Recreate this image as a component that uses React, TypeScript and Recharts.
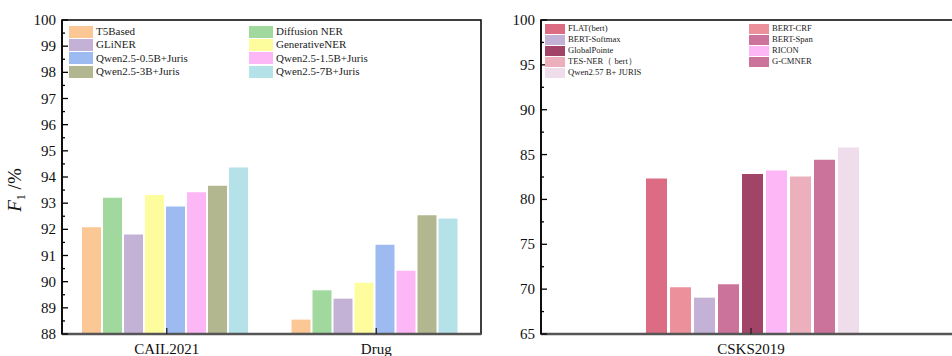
import React from 'react';
import { BarChart, Bar, XAxis, YAxis, Legend, ReferenceArea } from 'recharts';

const FONT = "'Liberation Serif', 'Times New Roman', serif";

// ---------- Left chart data ----------
const leftCategories = ['CAIL2021', 'Drug'];
const t5Based = [92.08, 88.55];
const diffusionNER = [93.21, 89.67];
const gliNER = [91.8, 89.35];
const generativeNER = [93.31, 89.96];
const qwen05 = [92.87, 91.41];
const qwen15 = [93.42, 90.42];
const qwen3 = [93.67, 92.54];
const qwen7 = [94.36, 92.41];
const leftNames = [
  'T5Based', 'Diffusion NER', 'GLiNER', 'GenerativeNER',
  'Qwen2.5-0.5B+Juris', 'Qwen2.5-1.5B+Juris', 'Qwen2.5-3B+Juris', 'Qwen2.5-7B+Juris',
];
const leftColors = ['#FAC795', '#A0D89E', '#C3B1D6', '#FDFD9E', '#9DBBF0', '#FDB7F6', '#B2B78F', '#B5E2E9'];
const leftYTicks = [88, 88.5, 89, 89.5, 90, 90.5, 91, 91.5, 92, 92.5, 93, 93.5, 94, 94.5, 95, 95.5, 96, 96.5, 97, 97.5, 98, 98.5, 99, 99.5, 100];

// ---------- Right chart data ----------
const rightCategories = ['CSKS2019'];
const flatBert = [82.32];
const bertCRF = [70.2];
const bertSoftmax = [69.05];
const bertSpan = [70.54];
const globalPointe = [82.84];
const ricon = [83.22];
const tesNER = [82.55];
const gCMNER = [84.41];
const qwenJuris = [85.78];
const rightNames = [
  'FLAT(bert)', 'BERT-CRF', 'BERT-Softmax', 'BERT-Span', 'GlobalPointe',
  'RICON', 'TES-NER（ bert）', 'G-CMNER', 'Qwen2.57 B+ JURIS',
];
const rightColors = ['#DC6B84', '#EC909C', '#C3B1D6', '#CC739C', '#A24368', '#FDB7F6', '#ECB0BD', '#CC739C', '#F0DDEB'];
const rightYTicks = [65, 67.5, 70, 72.5, 75, 77.5, 80, 82.5, 85, 87.5, 90, 92.5, 95, 97.5, 100];

const leftSeries = [t5Based, diffusionNER, gliNER, generativeNER, qwen05, qwen15, qwen3, qwen7];
const rightSeries = [flatBert, bertCRF, bertSoftmax, bertSpan, globalPointe, ricon, tesNER, gCMNER, qwenJuris];

const leftData = leftCategories.map((name, i) => {
  const row: any = { name };
  leftSeries.forEach((s, k) => { row['s' + k] = s[i]; });
  return row;
});
const rightData = rightCategories.map((name, i) => {
  const row: any = { name };
  rightSeries.forEach((s, k) => { row['s' + k] = s[i]; });
  return row;
});

const renderYTick = (p: any, step: number) => {
  const v = p.payload.value;
  const major = Math.abs(v / step - Math.round(v / step)) < 1e-6;
  return (
    <g key={'yt' + v}>
      <line x1={p.x} x2={p.x + (major ? 6 : 3)} y1={p.y} y2={p.y} stroke="#000" strokeWidth={1.3} />
      {major && (
        <text x={p.x - 6} y={p.y} dy={5} textAnchor="end" fontSize={15} fontFamily={FONT} fill="#111">
          {v}
        </text>
      )}
    </g>
  );
};

const renderXTick = (p: any) => (
  <g key={'xt' + p.payload.value}>
    <line x1={p.x} x2={p.x} y1={p.y - 6} y2={p.y} stroke="#222" strokeWidth={1.3} />
    <text x={p.x} y={p.y + 20} textAnchor="middle" fontSize={15} fontFamily={FONT} fill="#111">
      {p.payload.value}
    </text>
  </g>
);

const makeLegend = (names: string[], colors: string[], colWidth: number, rowH: number, swW: number, swH: number, fontSize: number) => () => (
  <div style={{ display: 'grid', gridTemplateColumns: `${colWidth}px ${colWidth}px`, fontFamily: FONT }}>
    {names.map((n, k) => (
      <div key={n} style={{ height: rowH, display: 'flex', alignItems: 'center', whiteSpace: 'nowrap' }}>
        <span style={{ display: 'inline-block', width: swW, height: swH, background: colors[k], marginRight: 3 }} />
        <span style={{ fontSize, color: '#222', lineHeight: `${rowH}px` }}>{n}</span>
      </div>
    ))}
  </div>
);

const YLabel = (props: any) => {
  const vb = props.viewBox || { x: 0, y: 20, width: 62, height: 314 };
  const cx = vb.x + 21;
  const cy = vb.y + 170;
  return (
    <text x={cx} y={cy} transform={`rotate(-90, ${cx}, ${cy})`} textAnchor="middle" fontFamily={FONT} fontSize={19} fill="#111">
      <tspan fontStyle="italic">F</tspan>
      <tspan fontSize={12} dy={4}>1</tspan>
      <tspan dy={-4}> /%</tspan>
    </text>
  );
};

export default function App() {
  return (
    <div style={{ position: 'absolute', left: 0, top: 0, width: 952, height: 356, overflow: 'hidden', background: '#fff' }}>
      <div style={{ position: 'absolute', left: 0, top: 0 }}>
        <BarChart width={490} height={356} data={leftData} margin={{ top: 20, right: 9, bottom: 0, left: 0 }}
          barCategoryGap={20} barGap={2}>
          <ReferenceArea y1={88} y2={100} fill="none" stroke="#000" strokeWidth={1.5} ifOverflow="visible" />
          {leftSeries.map((_, k) => (
            <Bar key={k} dataKey={'s' + k} name={leftNames[k]} fill={leftColors[k]} isAnimationActive={false} />
          ))}
          <XAxis dataKey="name" height={22} tickSize={0} tickMargin={0} tickLine={false}
            axisLine={{ stroke: '#555', strokeWidth: 2.5 }} tick={renderXTick} interval={0} />
          <YAxis width={62} domain={[88, 100]} ticks={leftYTicks} allowDataOverflow interval={0}
            tickSize={0} tickMargin={0} tickLine={false} axisLine={{ stroke: '#000', strokeWidth: 1.5 }}
            tick={(p: any) => renderYTick(p, 1)} label={<YLabel />} />
          <Legend layout="horizontal" verticalAlign="middle" align="center"
            wrapperStyle={{ left: 69, top: 25, width: 380, height: 56 }}
            content={makeLegend(leftNames, leftColors, 180, 13.3, 24, 12, 11)} />
        </BarChart>
      </div>
      <div style={{ position: 'absolute', left: 480, top: 0 }}>
        <BarChart width={490} height={356} data={rightData} margin={{ top: 20, right: 9, bottom: 0, left: 0 }}
          barCategoryGap={105} barGap={3}>
          <ReferenceArea y1={65} y2={100} fill="none" stroke="#000" strokeWidth={1.5} ifOverflow="visible" />
          {rightSeries.map((_, k) => (
            <Bar key={k} dataKey={'s' + k} name={rightNames[k]} fill={rightColors[k]} isAnimationActive={false} />
          ))}
          <XAxis dataKey="name" height={22} tickSize={0} tickMargin={0} tickLine={false}
            axisLine={{ stroke: '#555', strokeWidth: 2.5 }} tick={renderXTick} interval={0} />
          <YAxis width={61} domain={[65, 100]} ticks={rightYTicks} allowDataOverflow interval={0}
            tickSize={0} tickMargin={0} tickLine={false} axisLine={{ stroke: '#000', strokeWidth: 1.5 }}
            tick={(p: any) => renderYTick(p, 5)} />
          <Legend layout="horizontal" verticalAlign="middle" align="center"
            wrapperStyle={{ left: 65, top: 23, width: 420, height: 56 }}
            content={makeLegend(rightNames, rightColors, 204, 11, 20, 10, 8.6)} />
        </BarChart>
      </div>
    </div>
  );
}
